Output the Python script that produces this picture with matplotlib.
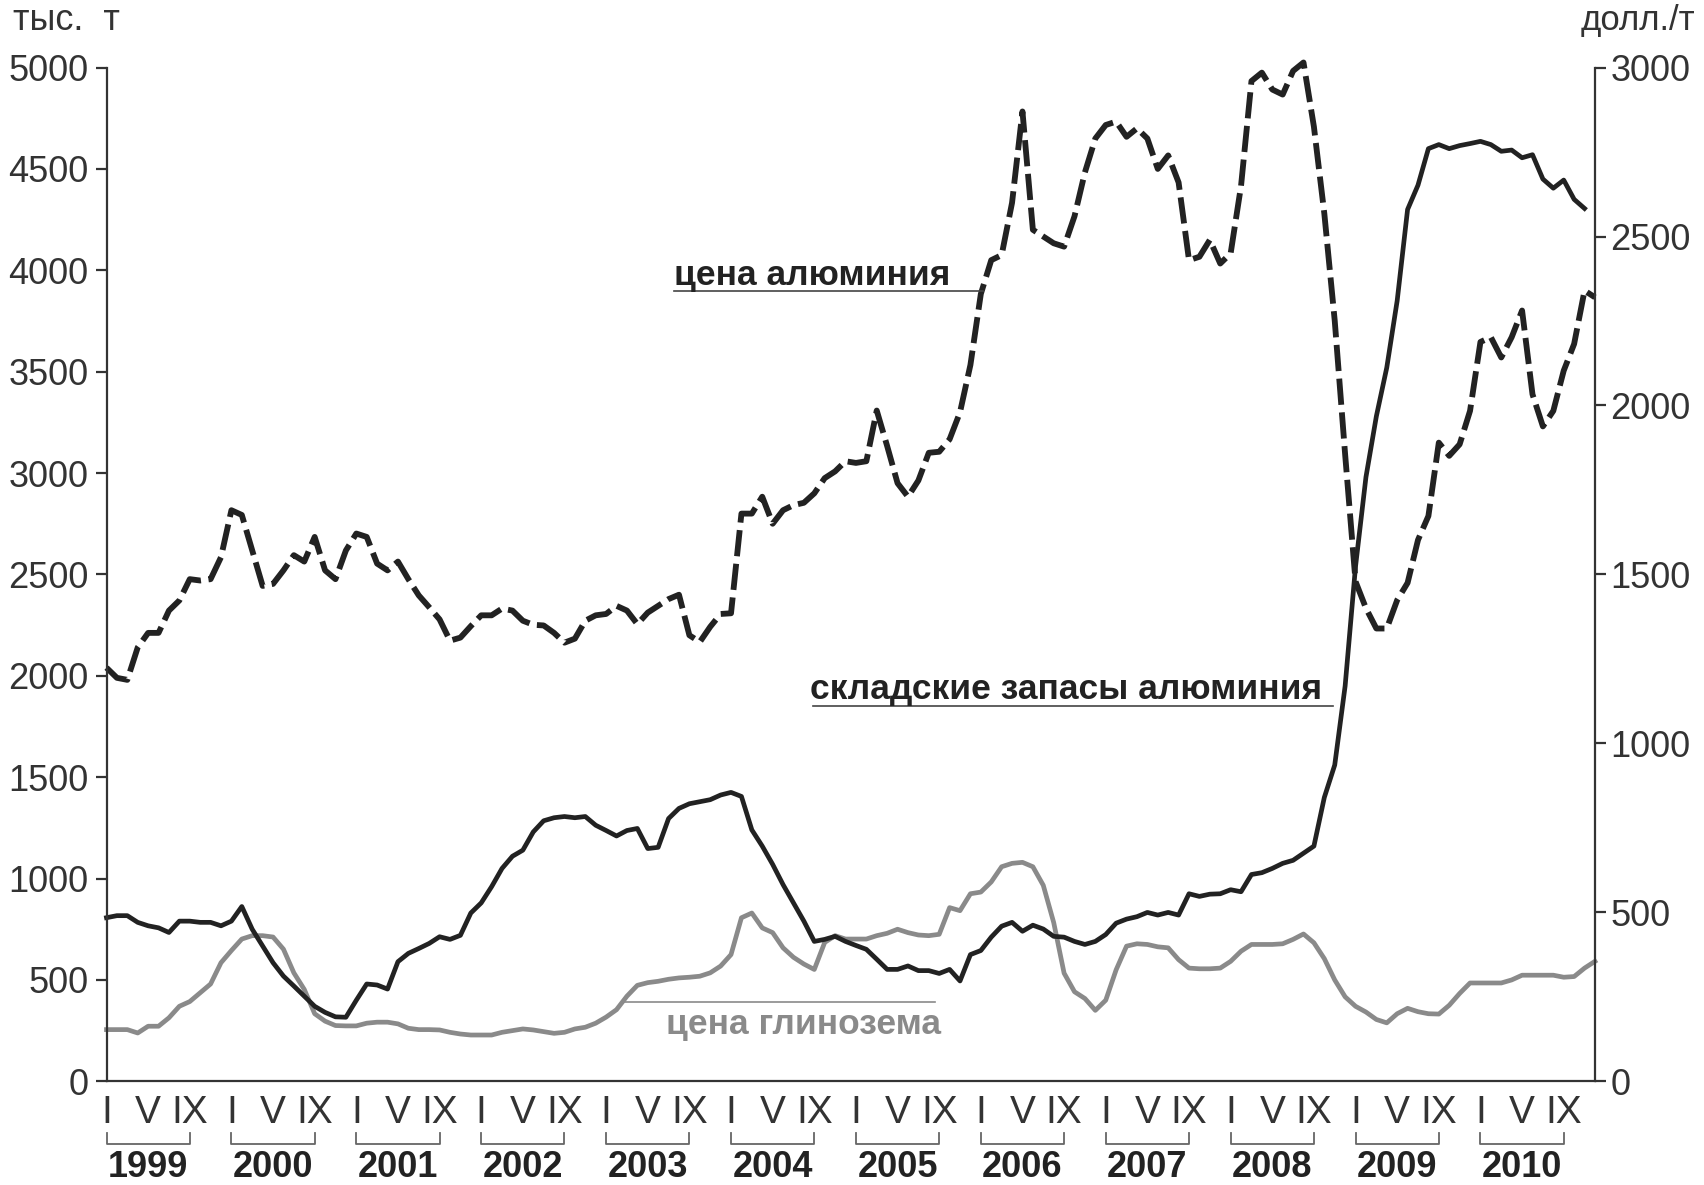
import numpy as np
import matplotlib
matplotlib.use("Agg")
import matplotlib.pyplot as plt
from matplotlib.transforms import blended_transform_factory

plt.rcParams['font.family'] = ['Liberation Sans', 'DejaVu Sans']

years = list(range(1999, 2011))
month_labels = ['I', 'V', 'IX']

# aluminium price, $/t (right axis), monthly Jan 1999 - Dec 2010
al_price = [1224, 1194, 1188, 1284, 1327, 1327, 1393, 1423, 1486, 1482, 1486, 1551,
            1690, 1676, 1571, 1466, 1472, 1512, 1557, 1538, 1611, 1512, 1486, 1571,
            1621, 1611, 1532, 1512, 1538, 1486, 1438, 1403, 1367, 1304, 1313, 1347,
            1379, 1379, 1399, 1393, 1363, 1351, 1349, 1327, 1298, 1310, 1363, 1379,
            1383, 1407, 1393, 1353, 1387, 1407, 1427, 1440, 1320, 1300, 1345, 1383,
            1385, 1680, 1680, 1730, 1650, 1690, 1705, 1712, 1740, 1785, 1805, 1835,
            1830, 1835, 1985, 1880, 1770, 1730, 1778, 1860, 1863, 1900, 1980, 2120,
            2330, 2430, 2445, 2600, 2870, 2520, 2500, 2480, 2470, 2560, 2690, 2790,
            2830, 2840, 2795, 2820, 2790, 2700, 2740, 2660, 2430, 2440, 2490, 2420,
            2450, 2650, 2960, 2985, 2935, 2920, 2990, 3015, 2825, 2568, 2251, 1855,
            1479, 1400, 1340, 1340, 1424, 1475, 1602, 1673, 1890, 1851, 1885, 1984,
            2188, 2202, 2142, 2202, 2281, 2033, 1938, 1984, 2103, 2182, 2340, 2320]

# aluminium stocks, thousand t (left axis), Jan 1999 - Nov 2010
stocks = [807, 817, 817, 784, 767, 757, 734, 790, 790, 784, 784, 767,
          790, 862, 750, 668, 585, 519, 470, 420, 370, 340, 318, 316,
          400, 480, 475, 455, 590, 631, 655, 680, 713, 700, 720, 830,
          880, 960, 1050, 1110, 1140, 1230, 1285, 1300, 1306, 1300, 1306, 1263,
          1237, 1210, 1237, 1247, 1148, 1154, 1296, 1346, 1369, 1379, 1389, 1412,
          1425, 1405, 1240, 1160, 1070, 970, 880, 790, 690, 700, 715, 690,
          670, 651, 602, 552, 552, 569, 546, 546, 532, 552, 495, 625,
          645, 711, 765, 784, 740, 770, 751, 715, 711, 690, 675, 690,
          724, 780, 800, 812, 833, 820, 833, 820, 925, 912, 923, 925,
          945, 935, 1020, 1029, 1050, 1075, 1090, 1125, 1160, 1400, 1560, 1950,
          2540, 2980, 3280, 3520, 3850, 4300, 4420, 4600, 4620, 4600, 4615, 4625,
          4636, 4620, 4587, 4593, 4555, 4570, 4450, 4405, 4445, 4350, 4305]

# alumina price, $/t (right axis)
alumina = [153, 153, 153, 143, 163, 163, 188, 222, 236, 262, 288, 351,
           387, 421, 431, 431, 427, 391, 321, 272, 200, 178, 165, 164,
           164, 172, 175, 175, 170, 157, 153, 153, 152, 145, 140, 137,
           137, 137, 145, 150, 155, 152, 147, 142, 145, 155, 160, 172,
           190, 212, 252, 284, 292, 296, 302, 306, 308, 311, 321, 341,
           375, 484, 498, 454, 440, 395, 367, 347, 331, 411, 431, 421,
           421, 421, 431, 438, 450, 440, 433, 431, 435, 514, 505, 555,
           560, 590, 635, 645, 648, 635, 580, 470, 320, 265, 245, 210,
           240, 330, 400, 407, 405, 398, 395, 360, 335, 333, 333, 335,
           355, 385, 405, 405, 405, 407, 420, 436, 410, 363, 300, 250,
           222, 205, 183, 173, 200, 216, 206, 200, 199, 225, 260, 291,
           291, 291, 291, 300, 314, 314, 314, 314, 308, 310, 335, 355]

dark = '#222222'
grey = '#8a8a8a'

fig = plt.figure(figsize=(17.04, 11.85), dpi=100)
ax = fig.add_axes([0.0625, 0.0875, 0.8735, 0.8555])
ax2 = ax.twinx()
ax.set_zorder(ax2.get_zorder() + 1)
ax.patch.set_visible(False)

ax2.plot(np.arange(len(alumina)), alumina, color=grey, lw=3.4, clip_on=False)
ax2.plot(np.arange(len(al_price)), al_price, color=dark, lw=4.2,
         ls=(0, (4.5, 1.3)), dash_capstyle='butt', clip_on=False)
ax.plot(np.arange(len(stocks)), stocks, color=dark, lw=3.4, clip_on=False)

ax.set_xlim(0, 143)
ax.set_ylim(0, 5000)
ax2.set_ylim(0, 3000)
ax.set_yticks(np.arange(0, 5001, 500))
ax2.set_yticks(np.arange(0, 3001, 500))

for a in (ax, ax2):
    a.spines['top'].set_visible(False)
    for s in a.spines.values():
        s.set_color('#333333')
        s.set_linewidth(1.6)
ax.spines['right'].set_visible(False)
ax2.spines['left'].set_visible(False)
ax2.spines['bottom'].set_visible(False)

ax.tick_params(axis='y', direction='out', length=8, width=1.6, labelsize=26,
               colors='#333333', pad=5)
ax2.tick_params(axis='y', direction='out', length=8, width=1.6, labelsize=26,
                colors='#333333', pad=3)

xt, xl = [], []
for i in range(len(years)):
    for j, lab in zip((0, 4, 8), month_labels):
        xt.append(12 * i + j)
        xl.append(lab)
ax.set_xticks(xt)
ax.set_xticklabels(xl)
ax.tick_params(axis='x', length=0, labelsize=28, colors='#333333', pad=10)

trans = blended_transform_factory(ax.transData, ax.transAxes)
for i, yr in enumerate(years):
    x0, x1 = 12 * i, 12 * i + 8
    ax.plot([x0, x0, x1, x1], [-0.051, -0.0618, -0.0618, -0.051], transform=trans,
            color='#666666', lw=1.3, clip_on=False)
    ax.text(12 * i + 4, -0.0945, str(yr), transform=trans, ha='center',
            va='baseline', fontsize=26, fontweight='bold', color=dark)

# series labels with leader lines
ax.plot([54.5, 84.2], [3896, 3896], color='#444444', lw=1.2)
ax.text(54.5, 3928, 'цена алюминия', ha='left', va='baseline', fontsize=25.5,
        fontweight='bold', color=dark)
ax.plot([67.9, 117.8], [1849, 1849], color='#444444', lw=1.2)
ax.text(67.6, 1886, 'складские запасы алюминия', ha='left', va='baseline',
        fontsize=25.5, fontweight='bold', color=dark)
ax.plot([49.8, 79.6], [391, 391], color=grey, lw=1.2)
ax.text(80.2, 232, 'цена глинозема', ha='right', va='baseline', fontsize=25.5,
        fontweight='bold', color=grey)

fig.text(0.0076, 0.9747, 'тыс.  т', ha='left', va='baseline', fontsize=26,
         color='#333333')
fig.text(0.9947, 0.9747, 'долл./т', ha='right', va='baseline', fontsize=25,
         color='#333333')

fig.savefig('out.png', dpi=100)
